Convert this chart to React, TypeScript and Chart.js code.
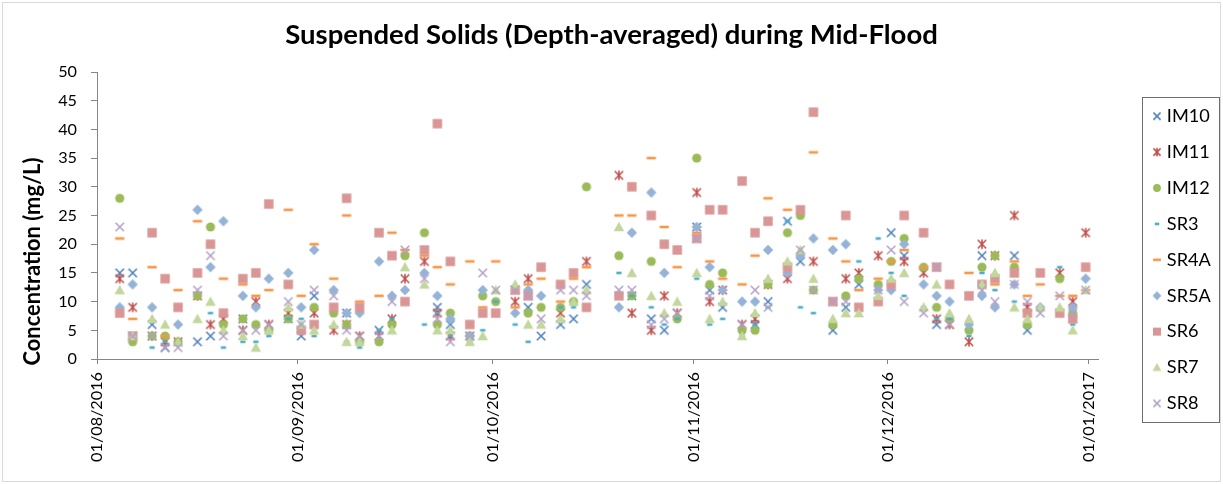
import React, { useEffect, useRef } from 'react';
import { Chart, registerables } from 'chart.js';

Chart.register(...registerables);

const TITLE = 'Suspended Solids (Depth-averaged) during Mid-Flood';
const Y_TITLE = 'Concentration (mg/L)';

const sampleDates = [
  '04/08/2016', '06/08/2016', '09/08/2016', '11/08/2016', '13/08/2016', '16/08/2016', '18/08/2016', '20/08/2016',
  '23/08/2016', '25/08/2016', '27/08/2016', '30/08/2016', '01/09/2016', '03/09/2016', '06/09/2016', '08/09/2016',
  '10/09/2016', '13/09/2016', '15/09/2016', '17/09/2016', '20/09/2016', '22/09/2016', '24/09/2016', '27/09/2016',
  '29/09/2016', '01/10/2016', '04/10/2016', '06/10/2016', '08/10/2016', '11/10/2016', '13/10/2016', '15/10/2016',
  '20/10/2016', '22/10/2016', '25/10/2016', '27/10/2016', '29/10/2016', '01/11/2016', '03/11/2016', '05/11/2016',
  '08/11/2016', '10/11/2016', '12/11/2016', '15/11/2016', '17/11/2016', '19/11/2016', '22/11/2016', '24/11/2016',
  '26/11/2016', '29/11/2016', '01/12/2016', '03/12/2016', '06/12/2016', '08/12/2016', '10/12/2016', '13/12/2016',
  '15/12/2016', '17/12/2016', '20/12/2016', '22/12/2016', '24/12/2016', '27/12/2016', '29/12/2016', '31/12/2016',
];

const monthTicks = ['01/08/2016', '01/09/2016', '01/10/2016', '01/11/2016', '01/12/2016', '01/01/2017'];

const seriesNames = ['IM10', 'IM11', 'IM12', 'SR3', 'SR4A', 'SR5A', 'SR6', 'SR7', 'SR8'];

const IM10 = [15, 15, 6, 2, null, 3, 4, null, 7, null, null, 7, 4, 11, null, 8, null, 5, null, null, null, 9, 6, null,
  null, null, null, 9, 4, 6, 7, 13, null, 11, 7, 5, null, 23, 12, 9, null, 6, 10, 24, 17, null, 5, 9,
  13, null, 22, 18, null, 6, null, null, 18, null, 18, 5, null, null, null, null];
const IM11 = [14, 9, 4, 3, 3, 11, 6, 7, 5, 10, 6, 8, null, 8, 5, 6, 4, 4, 7, 14, 17, 8, 4, 4,
  null, null, 10, 14, null, 8, null, 17, 32, 8, 5, 11, 8, 29, 10, 12, 6, 7, 13, 14, null, 17, null, 14,
  15, 18, null, 17, 15, 7, 6, 3, 20, 18, 25, 9, null, 15, 10, 22];
const IM12 = [28, 3, 4, 4, 3, 11, 23, 6, 7, 6, 5, 7, null, 9, 8, 6, 3, 3, 6, 18, 22, 6, 8, 4,
  11, 10, null, 8, 9, 9, 10, 30, 18, 11, 17, null, 7, 35, 13, 15, 5, 5, 13, 22, 25, 12, 6, 11,
  14, 13, 17, 21, 16, 9, 7, 5, 16, 18, 16, 6, null, 14, 8, null];
const SR3 = [null, null, 2, 3, 3, null, 8, 2, 3, 3, 4, 7, 7, 4, null, 3, 2, 5, 7, null, 6, 8, 4, 3,
  5, 10, 6, 3, null, 9, 9, null, 15, 11, 9, 6, 7, 14, 6, 7, 4, 6, 9, 24, 9, 8, null, null,
  17, 21, 15, 11, 9, 7, 7, 4, 15, 12, 10, null, null, 16, 6, null];
const SR4A = [21, 7, 16, 4, 12, 24, null, 14, 13, 11, 12, 26, 11, 20, 14, 25, 10, 11, 22, 19, 18, 16, 13, 17,
  9, 17, 9, 13, 14, 10, 14, 16, 25, 25, 35, 23, 16, 22, 17, 14, 13, 18, 28, 26, null, 36, 21, 17,
  12, 14, 17, 19, 16, null, null, 15, null, 13, 17, 11, 13, 11, 11, 12];
const SR5A = [9, 13, 9, null, 6, 26, 16, 24, 11, 9, 14, 15, 9, 19, 12, 8, 8, 17, 11, 12, 15, 11, 7, 4,
  12, null, 8, 12, 11, null, null, null, 9, 22, 29, 15, null, 23, 16, 12, 10, 10, 19, 15, 18, 21, 19, 20,
  null, 12, 12, 20, 13, 11, 10, 6, 11, 9, 13, null, 9, null, 9, 14];
const SR6 = [8, 4, 22, 14, 9, 15, 20, 8, 14, 15, 27, 13, 5, 6, 9, 28, 9, 22, 18, 10, 19, 41, 17, 6,
  8, 8, 12, 11, 16, 13, 15, 9, 11, 30, 25, 20, 19, 21, 26, 26, 31, 22, 24, 16, 26, 43, 10, 25,
  9, 10, 13, 25, 22, 16, 13, 11, 13, 14, 15, 8, 15, 8, 7, 16];
const SR7 = [12, 4, 7, 6, 3, 7, 10, 5, 4, 2, 5, 9, 6, 5, 6, 3, 3, null, 5, 16, 13, 5, 5, 3,
  4, 12, 13, 6, 6, 7, 10, 12, 23, 15, 11, 8, 10, 15, 7, 10, 4, 8, 14, 17, 19, 14, 7, 8,
  8, 11, 14, 15, 9, 13, 8, 7, 13, 15, 9, 7, 9, 9, 5, 12];
const SR8 = [23, 4, 4, 2, 2, 12, 18, 4, 5, 5, 6, 10, 6, 12, 11, 5, 4, 4, 10, 19, 14, 7, 3, 4,
  15, 12, 12, 11, 7, 12, 12, 11, 12, 12, 6, 7, 8, 21, 11, null, 6, 12, 9, null, 19, 12, 10, 10,
  null, 12, 19, 10, 8, 16, 6, null, 12, 10, 13, 10, 8, 11, 8, 12];

const seriesValues = [IM10, IM11, IM12, SR3, SR4A, SR5A, SR6, SR7, SR8];

const seriesStyles = [
  { kind: 'x', color: '#4F81BD' },
  { kind: 'star', color: '#C0504D' },
  { kind: 'circle', color: '#9BBB59' },
  { kind: 'dashS', color: '#4BACC6' },
  { kind: 'dashL', color: '#F79646' },
  { kind: 'diamond', color: '#95B3D7' },
  { kind: 'square', color: '#D99694' },
  { kind: 'triangle', color: '#C3D69B' },
  { kind: 'x', color: '#B3A2C7' },
];

const FONT = 'Lato, "Open Sans", sans-serif';
const AXIS = '#868686';
const X_MAX = 154.4;

const dayOf = (s: string) => {
  const [d, m, y] = s.split('/').map(Number);
  return (Date.UTC(y, m - 1, d) - Date.UTC(2016, 7, 1)) / 864e5;
};

const fitSize = (text: string, weight: string, target: number) => {
  const g = document.createElement('canvas').getContext('2d')!;
  g.font = `${weight} 100px ${FONT}`;
  return (100 * target) / g.measureText(text).width;
};

function makeMarker(kind: string, color: string, k: number): HTMLCanvasElement {
  const S = 16;
  const c = document.createElement('canvas');
  c.width = S;
  c.height = S;
  const g = c.getContext('2d')!;
  const m = S / 2;
  g.fillStyle = color;
  g.strokeStyle = color;
  g.beginPath();
  if (kind === 'x' || kind === 'star') {
    const a = 4.2 * k;
    g.lineWidth = 1.6;
    g.moveTo(m - a, m - a);
    g.lineTo(m + a, m + a);
    g.moveTo(m + a, m - a);
    g.lineTo(m - a, m + a);
    if (kind === 'star') {
      g.moveTo(m, m - a - 0.6);
      g.lineTo(m, m + a + 0.6);
    }
    g.stroke();
  } else if (kind === 'circle') {
    g.arc(m, m, 4.6 * k, 0, Math.PI * 2);
    g.fill();
  } else if (kind === 'dashS') {
    g.fillRect(m - 2.6 * k, m - 1.3, 5.2 * k, 2.6);
  } else if (kind === 'dashL') {
    g.fillRect(m - 4.6 * k, m - 1.3, 9.2 * k, 2.6);
  } else if (kind === 'diamond') {
    const a = 5.2 * k;
    g.moveTo(m, m - a);
    g.lineTo(m + a, m);
    g.lineTo(m, m + a);
    g.lineTo(m - a, m);
    g.closePath();
    g.fill();
  } else if (kind === 'square') {
    const a = 4.7 * k;
    g.fillRect(m - a, m - a, 2 * a, 2 * a);
  } else if (kind === 'triangle') {
    const a = 5.2 * k;
    g.moveTo(m, m - a);
    g.lineTo(m + a, m + a * 0.8);
    g.lineTo(m - a, m + a * 0.8);
    g.closePath();
    g.fill();
  }
  return c;
}

export default function App() {
  const ref = useRef<HTMLCanvasElement | null>(null);

  useEffect(() => {
    const TITLE_SIZE = fitSize(TITLE, 'bold', 653);
    const Y_TITLE_SIZE = fitSize(Y_TITLE, 'bold', 208);
    const TICK_SIZE = fitSize('01/08/2016', 'normal', 90);
    const LEGEND_SIZE = fitSize('IM10', 'normal', 43);
    const LEGEND_STEP = 35.9;
    const LEGEND_PAD = LEGEND_STEP - LEGEND_SIZE;
    const LEGEND_BW = 1.5;
    const LEGEND_MARKER_X = 1157;
    const LEGEND_FIRST_Y = 116.2;
    const LEGEND_BOX = { left: 1142.5, top: 97.5, right: 1219.5, bottom: 422.5 };
    const PLOT_TOP = 72;
    const TITLE_MID_Y = 35;

    const plotMarkers = seriesStyles.map((s) => makeMarker(s.kind, s.color, 1));
    const legendMarkers = seriesStyles.map((s) => makeMarker(s.kind, s.color, 0.85));

    const datasets = seriesNames.map((name, i) => ({
      label: name,
      data: sampleDates
        .map((d, j) => ({ x: dayOf(d) + 0.5, y: seriesValues[i][j] }))
        .filter((p) => p.y !== null),
      pointStyle: plotMarkers[i],
      pointRadius: 5,
      pointHoverRadius: 5,
      showLine: false,
      order: seriesNames.length - i,
      backgroundColor: seriesStyles[i].color,
      borderColor: seriesStyles[i].color,
    }));

    const decor = {
      id: 'decor',
      afterLayout(chart: any) {
        const lg = chart.legend;
        if (!lg) return;
        const w = lg.right - lg.left;
        lg.left = LEGEND_MARKER_X - LEGEND_BW / 2 - LEGEND_PAD;
        lg.right = lg.left + w;
        lg.top = LEGEND_FIRST_Y - LEGEND_SIZE / 2 - LEGEND_PAD;
        lg.bottom = chart.height;
        lg.width = lg.right - lg.left;
        lg.height = lg.bottom - lg.top;
      },
      afterDraw(chart: any) {
        const ctx = chart.ctx;
        ctx.save();
        ctx.strokeStyle = '#D9D9D9';
        ctx.lineWidth = 1;
        ctx.strokeRect(2.5, 2.5, 1218, 479);
        ctx.strokeStyle = '#6E6E6E';
        ctx.strokeRect(LEGEND_BOX.left, LEGEND_BOX.top, LEGEND_BOX.right - LEGEND_BOX.left, LEGEND_BOX.bottom - LEGEND_BOX.top);
        ctx.translate(40, 261.5);
        ctx.rotate(-Math.PI / 2);
        ctx.font = `bold ${Y_TITLE_SIZE}px ${FONT}`;
        ctx.fillStyle = '#000';
        ctx.textAlign = 'center';
        ctx.textBaseline = 'alphabetic';
        ctx.fillText(Y_TITLE, 0, 0);
        ctx.restore();
      },
    };

    const chart = new Chart(ref.current!, {
      type: 'scatter',
      data: { datasets },
      plugins: [decor],
      options: {
        responsive: false,
        animation: false,
        devicePixelRatio: 1,
        events: [],
        layout: { padding: 0 },
        plugins: {
          title: {
            display: true,
            text: TITLE,
            color: '#000',
            font: { family: FONT, size: TITLE_SIZE, weight: 'bold', lineHeight: 1.2 },
            padding: { top: 0, bottom: PLOT_TOP - TITLE_MID_Y - 0.6 * TITLE_SIZE },
          },
          legend: {
            display: true,
            position: 'right',
            align: 'start',
            labels: {
              usePointStyle: true,
              boxWidth: LEGEND_BW,
              boxHeight: 8,
              padding: LEGEND_PAD,
              color: '#000',
              font: { family: FONT, size: LEGEND_SIZE },
              generateLabels: () =>
                seriesNames.map((n, i) => ({
                  text: n,
                  fillStyle: seriesStyles[i].color,
                  strokeStyle: seriesStyles[i].color,
                  lineWidth: 0,
                  pointStyle: legendMarkers[i],
                  hidden: false,
                  datasetIndex: i,
                  fontColor: '#000',
                })),
            },
          },
          tooltip: { enabled: false },
        },
        scales: {
          x: {
            type: 'linear',
            min: 0,
            max: X_MAX,
            afterBuildTicks: (s: any) => {
              s.ticks = monthTicks.map((t) => ({ value: dayOf(t) }));
            },
            afterFit: (s: any) => {
              s.height = 125;
              s.paddingRight = 125;
              s.paddingLeft = 0;
            },
            ticks: {
              autoSkip: false,
              maxRotation: 90,
              minRotation: 90,
              padding: 8,
              color: '#000',
              font: { family: FONT, size: TICK_SIZE },
              callback: (v: any) => {
                const t = monthTicks.find((m) => dayOf(m) === v);
                return t ?? '';
              },
            },
            grid: { display: true, drawOnChartArea: false, drawTicks: true, tickLength: 5, color: AXIS },
            border: { display: true, color: AXIS, width: 1 },
          },
          y: {
            min: 0,
            max: 50,
            afterFit: (s: any) => {
              s.width = 97;
              s.paddingTop = PLOT_TOP;
              s.paddingBottom = 0;
            },
            ticks: {
              stepSize: 5,
              padding: 14,
              color: '#000',
              font: { family: FONT, size: TICK_SIZE },
            },
            grid: { display: true, drawOnChartArea: false, drawTicks: true, tickLength: 6, color: AXIS },
            border: { display: true, color: AXIS, width: 1 },
          },
        },
      },
    } as any);

    return () => chart.destroy();
  }, []);

  return (
    <div style={{ position: 'absolute', left: 0, top: 0, width: 1223, height: 484, background: '#fff' }}>
      <canvas ref={ref} width={1223} height={484} style={{ display: 'block' }} />
    </div>
  );
}
